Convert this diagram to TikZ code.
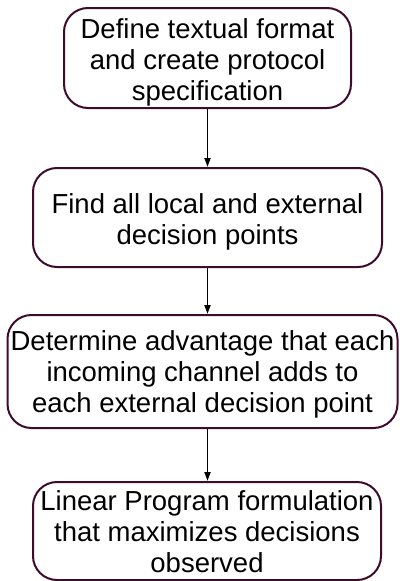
\documentclass[tikz,border=0pt]{standalone}
\usepackage{fontspec}
\setmainfont{Liberation Sans}
\usetikzlibrary{arrows.meta}
\definecolor{boxline}{RGB}{62,12,42}
\begin{document}
\begin{tikzpicture}[x=1pt,y=-1pt,
  stepbox/.style={draw=boxline, line width=2pt, rounded corners=24pt,
    inner sep=0pt},
  steptext/.style={align=center, inner sep=0pt,
    font=\fontsize{27.5}{31}\selectfont},
  flow/.style={line width=1.8pt, -{Triangle[length=9pt,width=6pt]}}]
  \useasboundingbox (0,0) rectangle (399,581);
  % boxes
  \node[stepbox, minimum width=287pt, minimum height=100pt] (b1) at (207.5,58) {};
  \node[stepbox, minimum width=349pt, minimum height=99pt] (b2) at (207.5,217.5) {};
  \node[stepbox, minimum width=390pt, minimum height=113pt] (b3) at (202.5,371.5) {};
  \node[stepbox, minimum width=348pt, minimum height=98pt] (b4) at (207,531) {};
  % labels, set a little below the box centres
  \node[steptext] (t1) at ([yshift=-4pt]b1.center)
    {Define textual format\\and create protocol\\specification};
  \node[steptext] (t2) at ([yshift=-4pt]b2.center)
    {Find all local and external\\decision points};
  \node[steptext] (t3) at ([yshift=-3pt]b3.center)
    {Determine advantage that each\\incoming channel adds to\\each external decision point};
  \node[steptext] (t4) at ([yshift=-1pt]b4.center)
    {Linear Program formulation\\that maximizes decisions\\observed};
  % connectors
  \draw[flow] (b1.south) -- (b1.south |- b2.north);
  \draw[flow] (b2.south) -- (b2.south |- b3.north);
  \draw[flow] (b2.south |- b3.south) -- (b2.south |- b4.north);
\end{tikzpicture}
\end{document}
